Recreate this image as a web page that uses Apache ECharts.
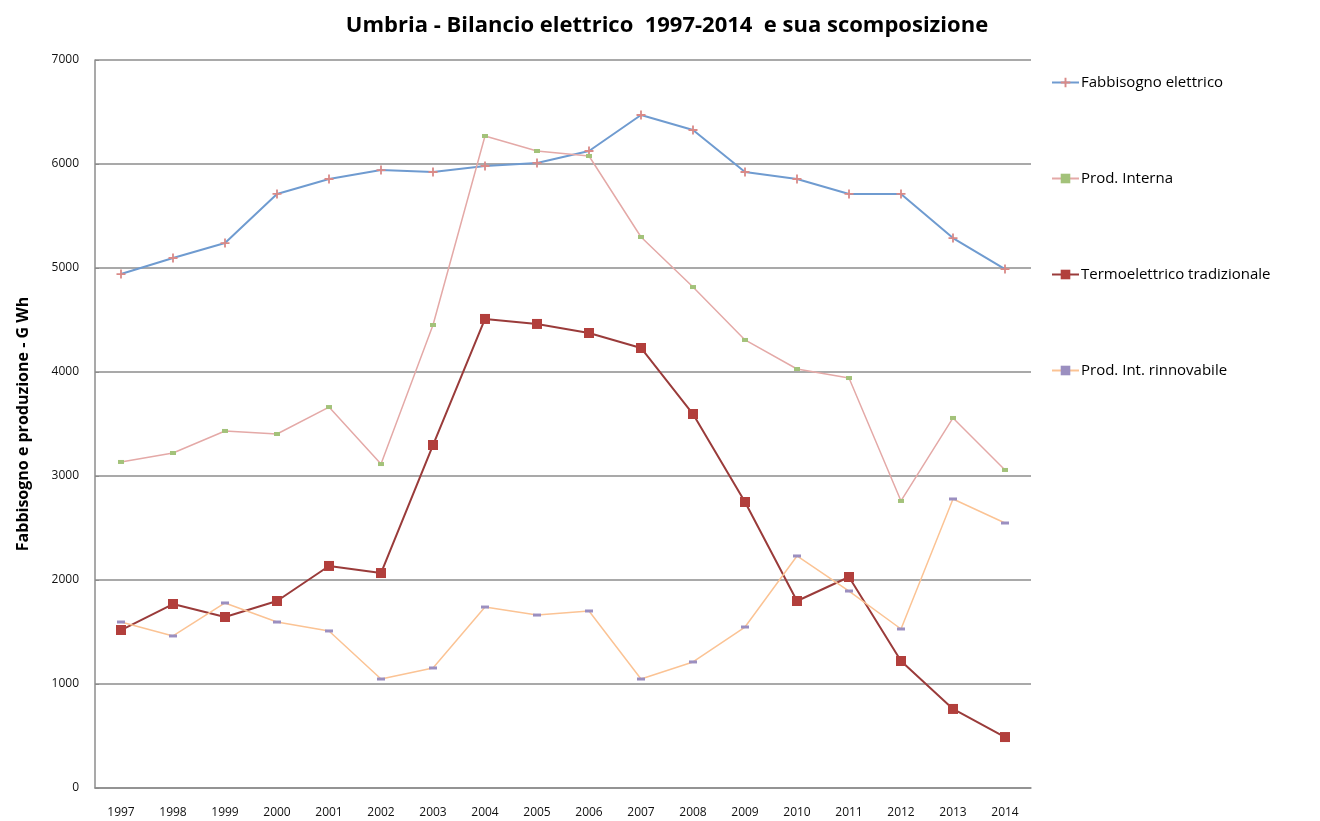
<!DOCTYPE html>
<html>
<head>
<meta charset="utf-8">
<script src="https://cdn.jsdelivr.net/npm/echarts@6/dist/echarts.min.js"></script>
<style>
  html, body { margin: 0; padding: 0; background: #fff; }
  #chart { width: 1320px; height: 821px; }
</style>
</head>
<body>
<div id="chart"></div>
<script>
// anni
const years = ['1997', '1998', '1999', '2000', '2001', '2002', '2003', '2004', '2005',
  '2006', '2007', '2008', '2009', '2010', '2011', '2012', '2013', '2014']

// GWh
const fabbisogno = [4942, 5096, 5240, 5712, 5856, 5942, 5923, 5981, 6010,
  6125, 6471, 6327, 5923, 5856, 5712, 5712, 5288, 4990]
const prodInterna = [3135, 3221, 3433, 3404, 3663, 3115, 4452, 6269, 6125,
  6077, 5298, 4817, 4308, 4029, 3942, 2760, 3558, 3058]
const termoelettrico = [1519, 1769, 1644, 1798, 2135, 2067, 3298, 4510, 4462,
  4375, 4231, 3596, 2750, 1798, 2029, 1221, 760, 490]
const rinnovabile = [1596, 1462, 1779, 1596, 1510, 1048, 1154, 1740, 1663,
  1702, 1048, 1212, 1548, 2231, 1894, 1529, 2779, 2548]

const fontFamily = '"Open Sans", "Noto Sans", sans-serif'
const crossPath = 'path://M4,0H6V4H10V6H6V10H4V6H0V4H4Z'

let myChart = echarts.init(document.getElementById('chart'))

myChart.setOption({
  animation: false,
  title: {
    text: 'Umbria - Bilancio elettrico  1997-2014  e sua scomposizione',
    left: 662,
    top: 10,
    textAlign: 'center',
    textStyle: {
      fontFamily: fontFamily,
      fontSize: 22,
      fontWeight: 'bold',
      color: '#000'
    }
  },
  legend: {
    orient: 'vertical',
    left: 1046,
    top: 70,
    itemGap: 81,
    itemWidth: 27,
    itemHeight: 12,
    textStyle: {
      fontFamily: fontFamily,
      fontSize: 15,
      color: '#000',
      padding: [0, 0, 0, -3]
    },
    data: [
      { name: 'Fabbisogno elettrico' },
      { name: 'Prod. Interna', itemStyle: { color: '#a3c27a' } },
      { name: 'Termoelettrico tradizionale' },
      { name: 'Prod. Int. rinnovabile' }
    ]
  },
  grid: {
    left: 95,
    top: 60,
    width: 936,
    height: 728,
    containLabel: false
  },
  xAxis: {
    type: 'category',
    data: years,
    boundaryGap: true,
    axisTick: { show: false },
    axisLine: { lineStyle: { color: '#8c8c8c', width: 1.5 } },
    axisLabel: {
      interval: 0,
      margin: 19,
      fontFamily: fontFamily,
      fontSize: 12,
      color: '#111'
    }
  },
  yAxis: {
    type: 'value',
    min: 0,
    max: 7000,
    interval: 1000,
    name: 'Fabbisogno e produzione - G Wh',
    nameLocation: 'middle',
    nameGap: 64,
    nameTextStyle: {
      fontFamily: fontFamily,
      fontSize: 16,
      fontWeight: 'bold',
      color: '#000'
    },
    axisLine: { show: true, lineStyle: { color: '#8c8c8c', width: 1.5 } },
    axisTick: { show: true, inside: true, length: 4, lineStyle: { color: '#8c8c8c' } },
    splitLine: { lineStyle: { color: '#8c8c8c', width: 1.5 } },
    axisLabel: {
      margin: 16,
      fontFamily: fontFamily,
      fontSize: 12,
      color: '#111',
      formatter: function (value) {
        return String(value)
      }
    }
  },
  series: [{
    name: 'Fabbisogno elettrico',
    type: 'line',
    data: fabbisogno,
    symbol: crossPath,
    symbolSize: 9,
    lineStyle: { color: '#6f9bd0', width: 2 },
    itemStyle: { color: '#d98a88' }
  }, {
    name: 'Prod. Interna',
    type: 'line',
    data: prodInterna,
    symbol: 'rect',
    symbolSize: [6, 4],
    lineStyle: { color: '#e4a9a7', width: 1.5 },
    itemStyle: { color: '#a3c27a' }
  }, {
    name: 'Termoelettrico tradizionale',
    type: 'line',
    data: termoelettrico,
    symbol: 'rect',
    symbolSize: 10,
    lineStyle: { color: '#9a3b3a', width: 2 },
    itemStyle: { color: '#b23f3c' }
  }, {
    name: 'Prod. Int. rinnovabile',
    type: 'line',
    data: rinnovabile,
    symbol: 'rect',
    symbolSize: [8, 3],
    lineStyle: { color: '#fbc394', width: 1.5 },
    itemStyle: { color: '#9b8fc0' }
  }]
})
</script>
</body>
</html>
